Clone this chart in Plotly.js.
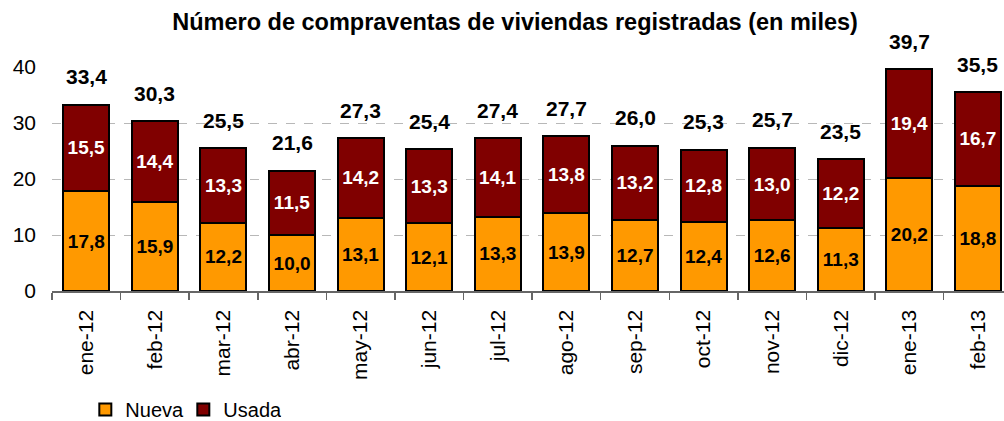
<!DOCTYPE html>
<html><head><meta charset="utf-8">
<script src="https://cdn.plot.ly/plotly-3.0.1.min.js"></script>
<style>body{margin:0;padding:0;background:#fff}#c{width:1004px;height:421px}</style>
</head><body><div id="c"></div>
<script>
const categories = ["ene-12","feb-12","mar-12","abr-12","may-12","jun-12","jul-12","ago-12","sep-12","oct-12","nov-12","dic-12","ene-13","feb-13"];
const nueva = [17.8,15.9,12.2,10.0,13.1,12.1,13.3,13.9,12.7,12.4,12.6,11.3,20.2,18.8];
const usada = [15.5,14.4,13.3,11.5,14.2,13.3,14.1,13.8,13.2,12.8,13.0,12.2,19.4,16.7];
const totals = [33.4,30.3,25.5,21.6,27.3,25.4,27.4,27.7,26.0,25.3,25.7,23.5,39.7,35.5];

const font = "Liberation Sans, Arial, sans-serif";
const traces = [
  {type:"bar", name:"Nueva", x:categories, y:nueva,
   marker:{color:"#FF9900", line:{color:"#000", width:2}},
   texttemplate:"%{y:.1f}", textposition:"inside", insidetextanchor:"middle",
   textfont:{family:font, size:19, color:"#000", weight:"bold"}, cliponaxis:false},
  {type:"bar", name:"Usada", x:categories, y:usada,
   marker:{color:"#800000", line:{color:"#000", width:2}},
   texttemplate:"%{y:.1f}", textposition:"inside", insidetextanchor:"middle",
   textfont:{family:font, size:19, color:"#fff", weight:"bold"}, cliponaxis:false}
];
const fmt = v => v.toFixed(1).replace(".", ",");
const annotations = categories.map((c, i) => ({
  x: c, y: totals[i], xref:"x", yref:"y", text: fmt(totals[i]),
  showarrow:false, yanchor:"bottom", xanchor:"center", yshift:14,
  font:{family:font, size:21, color:"#000", weight:"bold"}
}));
const layout = {
  width:1004, height:421,
  margin:{l:52, r:0, t:67, b:130, autoexpand:false},
  paper_bgcolor:"#fff", plot_bgcolor:"#fff",
  separators:",.",
  barmode:"stack", bargap:0.33,
  font:{family:font, size:20, color:"#000"},
  title:{text:"Número de compraventas de viviendas registradas (en miles)",
         font:{family:font, size:23.5, color:"#000", weight:"bold"},
         x:0.513, xref:"container", xanchor:"center", y:0.948, yanchor:"middle"},
  xaxis:{type:"category", range:[-0.5, 13.38], tickson:"boundaries", automargin:false,
         ticks:"outside", ticklen:7, tickcolor:"#666", tickwidth:1.5,
         showline:true, linecolor:"#666", linewidth:1.5,
         tickangle:-90, ticklabelstandoff:9, tickfont:{family:font, size:21, color:"#000"},
         showgrid:false, fixedrange:true},
  yaxis:{range:[0,40], dtick:10, showgrid:true, gridcolor:"#b8b8b8", griddash:"dash", gridwidth:1,
         zeroline:false, showline:false, ticks:"", ticklabelstandoff:15, automargin:false,
         tickfont:{family:font, size:21, color:"#000"}, fixedrange:true},
  legend:{orientation:"h", traceorder:"normal", x:0.035, xanchor:"left", y:-0.529, yanchor:"middle",
          font:{family:font, size:20, color:"#000"}, itemwidth:30, entrywidth:53, tracegroupgap:0},
  annotations: annotations
};
Plotly.newPlot("c", traces, layout, {displayModeBar:false, staticPlot:true});
</script></body></html>
